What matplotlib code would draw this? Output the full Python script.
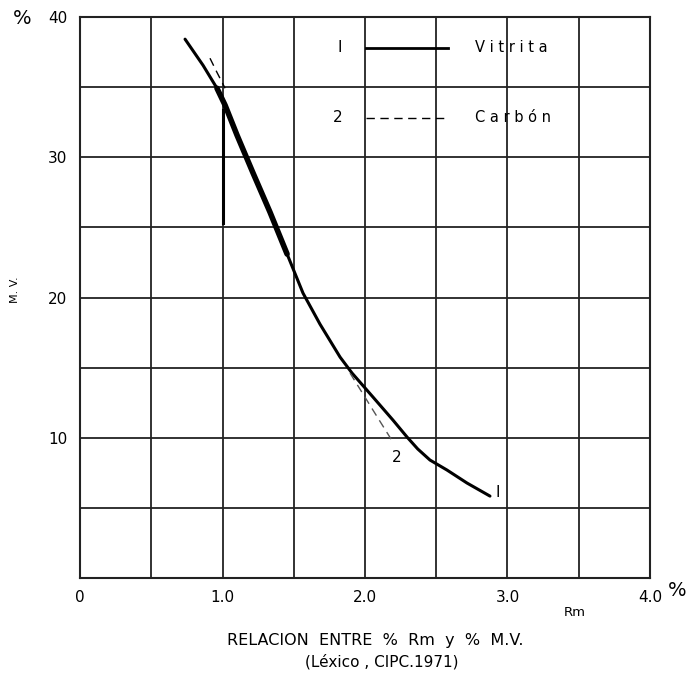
import matplotlib.pyplot as plt
import numpy as np

# curve 1: Vitrita (solid)
vitrita_rm = [0.737, 0.863, 0.961, 1.018, 1.102, 1.214, 1.333, 1.453, 1.565,
              1.684, 1.825, 1.909, 2.056, 2.196, 2.295, 2.37, 2.456, 2.575, 2.716, 2.877]
vitrita_mv = [38.42, 36.56, 34.92, 33.71, 31.57, 28.88, 26.09, 23.10, 20.31,
              18.10, 15.75, 14.61, 12.90, 11.26, 10.05, 9.2, 8.41, 7.70, 6.77, 5.84]

# curve 2: Carbón (dashed), only the parts that leave curve 1
carbon_top_rm = [0.912, 0.96, 1.018]
carbon_top_mv = [37.06, 36.07, 34.92]
carbon_low_rm = [1.895, 2.056, 2.196]
carbon_low_mv = [14.61, 11.97, 9.69]

x_ticks = [0, 1.0, 2.0, 3.0, 4.0]
x_ticklabels = ["0", "1.0", "2.0", "3.0", "4.0"]
y_ticks = [10, 20, 30, 40]

fig = plt.figure(figsize=(6.9, 6.8), dpi=100)
ax = fig.add_axes([0.116, 0.15, 0.826, 0.825])

ax.set_xlim(0, 4.0)
ax.set_ylim(0, 40)

# grid every 0.5 / 5
for gx in np.arange(0.5, 4.0, 0.5):
    ax.axvline(gx, color="#222222", lw=1.3, zorder=1)
for gy in np.arange(5, 40, 5):
    ax.axhline(gy, color="#222222", lw=1.3, zorder=1)

for s in ax.spines.values():
    s.set_linewidth(1.5)
    s.set_color("#222222")

ax.set_xticks(x_ticks)
ax.set_xticklabels(x_ticklabels, fontsize=11)
ax.set_yticks(y_ticks)
ax.set_yticklabels([str(v) for v in y_ticks], fontsize=11)
ax.tick_params(length=0, pad=9)

# heavy vertical mark at Rm = 1.0
ax.plot([1.0, 1.0], [25.3, 33.4], color="black", lw=2.2, zorder=3)

ax.plot(vitrita_rm, vitrita_mv, color="black", lw=2.2, solid_capstyle="round",
        solid_joinstyle="round", zorder=4)
# thicker middle part
ax.plot(vitrita_rm[2:8], vitrita_mv[2:8], color="black", lw=4.0, solid_capstyle="round",
        solid_joinstyle="round", zorder=4)
ax.plot(carbon_top_rm, carbon_top_mv, color="black", lw=1.0, ls=(0, (6, 4)), zorder=4)
ax.plot(carbon_low_rm, carbon_low_mv, color="#555555", lw=1.0, ls=(0, (6, 4)), zorder=4)

ax.text(2.93, 6.1, "I", fontsize=11, ha="center", va="center")
ax.text(2.22, 8.6, "2", fontsize=11, ha="center", va="center")

# legend drawn inside
ax.text(1.82, 37.8, "I", fontsize=11, ha="center", va="center")
ax.plot([2.01, 2.58], [37.8, 37.8], color="black", lw=2.0)
ax.text(2.77, 37.8, "V i t r i t a", fontsize=10.5, ha="left", va="center")
ax.text(1.81, 32.8, "2", fontsize=11, ha="center", va="center")
ax.plot([2.01, 2.58], [32.8, 32.8], color="black", lw=1.0, ls=(0, (6, 4)))
ax.text(2.77, 32.8, "C a r b ó n", fontsize=10.5, ha="left", va="center")

fig.text(22 / 690, 1 - 18 / 680, "%", fontsize=14, ha="center", va="center")
fig.text(677 / 690, 1 - 591 / 680, "%", fontsize=14, ha="center", va="center")
fig.text(575 / 690, 1 - 613 / 680, "Rm", fontsize=9.5, ha="center", va="center")
fig.text(15 / 690, 1 - 290 / 680, "M. V.", fontsize=8, ha="center", va="center", rotation=90)

fig.text(375 / 690, 1 - 640 / 680, "RELACION  ENTRE  %  Rm  y  %  M.V.", fontsize=11.5,
         ha="center", va="center")
fig.text(382 / 690, 1 - 662 / 680, "(Léxico , CIPC.1971)", fontsize=11,
         ha="center", va="center")

fig.savefig("out.png", dpi=100, facecolor="white")
